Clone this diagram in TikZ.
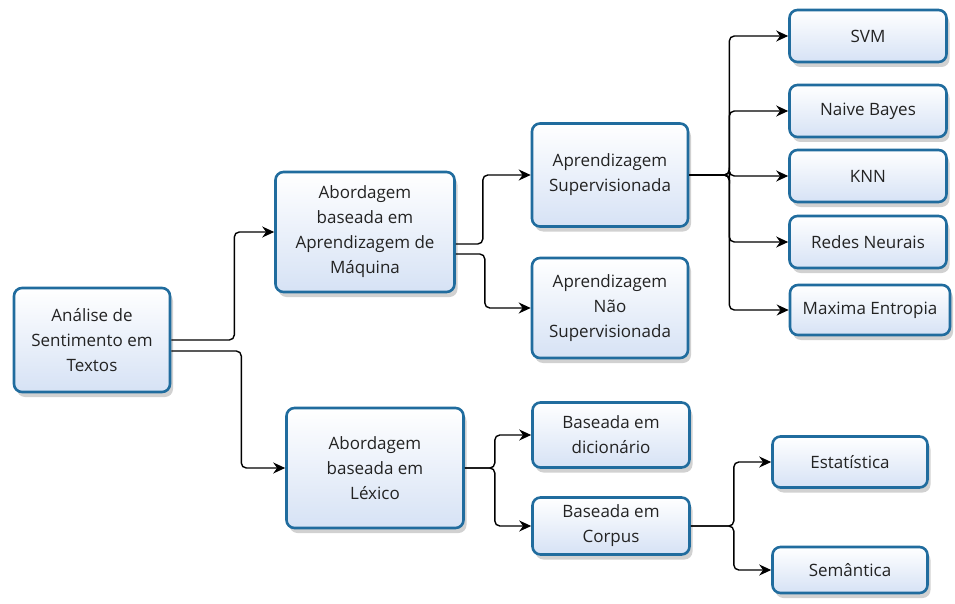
\documentclass[tikz,border=0pt]{standalone}
\usepackage{fontspec}
\setmainfont{Open Sans}
\usetikzlibrary{arrows.meta,shadows}
\definecolor{boxline}{RGB}{32,108,158}
\definecolor{boxfill}{RGB}{214,226,245}
\definecolor{boxtext}{RGB}{35,35,35}
\begin{document}
\begin{tikzpicture}[x=1pt, y=-1pt,
    box/.style={draw=boxline, line width=2.6pt, rounded corners=8pt, top color=white, bottom color=boxfill,
        text=boxtext, align=center, inner sep=2pt, font=\fontsize{17}{25}\selectfont,
        drop shadow={shadow xshift=3pt, shadow yshift=-5pt, opacity=0.18, fill=black}},
    conn/.style={draw=black, line width=1.4pt, rounded corners=5pt, -{Stealth[length=12pt,width=11pt]}}]
    \useasboundingbox (0,0) rectangle (955,604);

    \node (0) at (92,340)[box, minimum width=156pt, minimum height=104pt] {Análise de\\Sentimento em\\Textos};

    \node (1) at (365,232)[box, minimum width=179pt, minimum height=120pt] {Abordagem\\baseada em\\Aprendizagem de\\Máquina};
    \node (2) at (375,468)[box, minimum width=177pt, minimum height=120pt] {Abordagem\\baseada em\\Léxico};

    \node (3) at (610,175)[box, minimum width=156pt, minimum height=103pt] {Aprendizagem\\Supervisionada};
    \node (4) at (610,308)[box, minimum width=156pt, minimum height=100pt] {Aprendizagem\\Não\\Supervisionada};

    \node (5) at (868,36)[box, minimum width=157pt, minimum height=52pt] {SVM};
    \node (6) at (868,111)[box, minimum width=157pt, minimum height=52pt] {Naive Bayes};
    \node (7) at (868,176)[box, minimum width=157pt, minimum height=52pt] {KNN};
    \node (8) at (868,242)[box, minimum width=157pt, minimum height=52pt] {Redes Neurais};
    \node (9) at (870,310)[box, minimum width=160pt, minimum height=50pt] {Maxima Entropia};

    \node (10) at (611,435)[box, minimum width=157pt, minimum height=65pt] {Baseada em\\dicionário};
    \node (11) at (611,526)[box, minimum width=157pt, minimum height=57pt] {Baseada em\\Corpus};

    \node (12) at (850,462)[box, minimum width=155pt, minimum height=51pt] {Estatística};
    \node (13) at (850,570)[box, minimum width=155pt, minimum height=46pt] {Semântica};

    \draw[conn] (0.east) -- ++(63,0) |- (1.west);
    \draw[conn] ([yshift=-11pt]0.east) -- ++(70,0) |- (2.west);

    \draw[conn] ([yshift=-12pt]1.east) -- ++(27,0) |- (3.west);
    \draw[conn] ([yshift=-22pt]1.east) -- ++(29,0) |- (4.west);

    \foreach \i in {5,...,9}
        \draw[conn] (3.east) -- ++(40,0) |- (\i.west);

    \draw[conn] (2.east) -- ++(30,0) |- (10.west);
    \draw[conn] (2.east) -- ++(30,0) |- (11.west);

    \draw[conn] (11.east) -- ++(43,0) |- (12.west);
    \draw[conn] (11.east) -- ++(43,0) |- (13.west);
\end{tikzpicture}
\end{document}
